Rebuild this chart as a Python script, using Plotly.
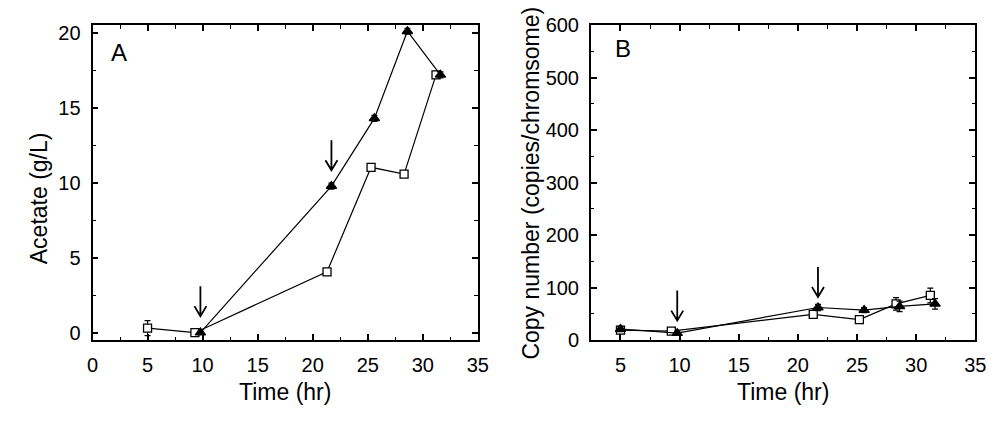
import plotly.graph_objects as go

# ---- Data ----
# Panel A: Acetate (g/L)
a_tri_x = [9.8, 21.7, 25.6, 28.6, 31.6]
a_tri_y = [0.05, 9.8, 14.3, 20.1, 17.2]
a_tri_err = [0.1, 0.2, 0.2, 0.2, 0.2]
a_sq_x = [5.0, 9.3, 21.3, 25.3, 28.3, 31.2]
a_sq_y = [0.35, 0.05, 4.1, 11.05, 10.6, 17.2]
a_sq_err = [0.5, 0.1, 0.2, 0.2, 0.2, 0.2]

# Panel B: Copy number (copies/chromsome)
b_tri_x = [5.0, 9.8, 21.7, 25.6, 28.6, 31.6]
b_tri_y = [21, 13, 62, 57, 64, 69]
b_tri_err = [5, 4, 6, 5, 10, 10]
b_sq_x = [5.0, 9.3, 21.3, 25.2, 28.3, 31.2]
b_sq_y = [19, 17, 49, 39, 69, 85]
b_sq_err = [5, 4, 4, 5, 12, 14]

# arrows: (x, y of tip) in data units
a_arrows_x = [9.8, 21.7]
a_arrows_y = [1.15, 10.85]
b_arrows_x = [9.8, 21.7]
b_arrows_y = [37, 82]

FONT = "Liberation Sans, Arial, sans-serif"

fig = go.Figure()

def add_series(x, y, err, symbol, fill, size, xa, ya):
    fig.add_trace(go.Scatter(
        x=x, y=y, mode="lines+markers",
        line=dict(color="black", width=1.2),
        marker=dict(symbol=symbol, size=size,
                    color=fill, line=dict(color="black", width=1.3)),
        error_y=dict(type="data", array=err, visible=True, color="black",
                     thickness=1.2, width=3),
        xaxis=xa, yaxis=ya, showlegend=False, hoverinfo="skip"))

add_series(a_sq_x, a_sq_y, a_sq_err, "square", "white", 8, "x", "y")
add_series(a_tri_x, a_tri_y, a_tri_err, "triangle-up", "black", 9, "x", "y")
add_series(b_sq_x, b_sq_y, b_sq_err, "square", "white", 8, "x2", "y2")
add_series(b_tri_x, b_tri_y, b_tri_err, "triangle-up", "black", 9, "x2", "y2")

ax_common = dict(
    showline=True, linecolor="black", linewidth=1.8, mirror="ticks",
    ticks="inside", ticklen=6, tickwidth=1.6, tickcolor="black",
    showgrid=False, zeroline=False,
    tickfont=dict(family=FONT, size=20, color="black"),
    ticklabelstandoff=6,
)
minor = lambda d: dict(dtick=d, ticks="inside", ticklen=3.5, tickwidth=1.4, tickcolor="black")

y_dom = [1 - 347 / 425, 1 - 15 / 425]
fig.update_layout(
    width=1002, height=425,
    margin=dict(l=0, r=0, t=0, b=0),
    paper_bgcolor="white", plot_bgcolor="white",
    xaxis=dict(domain=[88 / 1002, 480 / 1002], range=[0, 35], dtick=5, tick0=0,
               minor=minor(2.5), anchor="y", **ax_common),
    yaxis=dict(domain=y_dom, range=[-0.44, 20.5], dtick=5, tick0=0,
               minor=minor(2.5), anchor="x", **ax_common),
    xaxis2=dict(domain=[595 / 1002, 986 / 1002], range=[2.5, 35], dtick=5, tick0=0,
                minor=minor(2.5), anchor="y2", **ax_common),
    yaxis2=dict(domain=y_dom, range=[0, 600], dtick=100, tick0=0,
                minor=minor(50), anchor="x2", **ax_common),
)

tfont = dict(family=FONT, size=23, color="black")
annos = [
    dict(text="Time (hr)", x=(88 + 480) / 2 / 1002, y=1 - 402 / 425, xref="paper", yref="paper",
         showarrow=False, font=tfont, xanchor="center", yanchor="middle"),
    dict(text="Time (hr)", x=(595 + 986) / 2 / 1002, y=1 - 402 / 425, xref="paper", yref="paper",
         showarrow=False, font=tfont, xanchor="center", yanchor="middle"),
    dict(text="Acetate (g/L)", x=33 / 1002, y=1 - 197 / 425, xref="paper", yref="paper",
         showarrow=False, font=tfont, textangle=-90, xanchor="center", yanchor="middle"),
    dict(text="Copy number (copies/chromsome)", x=534 / 1002, y=1 - 181 / 425, xref="paper", yref="paper",
         showarrow=False, font=tfont, textangle=-90, xanchor="center", yanchor="middle"),
    dict(text="A", x=2.4, y=18.7, xref="x", yref="y", showarrow=False,
         font=dict(family=FONT, size=24, color="black")),
    dict(text="B", x=5.2, y=555, xref="x2", yref="y2", showarrow=False,
         font=dict(family=FONT, size=24, color="black")),
]
fig.update_layout(annotations=annos)

arrow_path = "M 0,0 L 0,30 M -6,10 L 0,0 L 6,10"
shapes = []
for xs, ys, xr, yr in [(a_arrows_x, a_arrows_y, "x", "y"), (b_arrows_x, b_arrows_y, "x2", "y2")]:
    for xv, yv in zip(xs, ys):
        shapes.append(dict(type="path", path=arrow_path, xref=xr, yref=yr,
                           xsizemode="pixel", ysizemode="pixel", xanchor=xv, yanchor=yv,
                           line=dict(color="black", width=1.8)))
fig.update_layout(shapes=shapes)

fig.write_html("out.html")
